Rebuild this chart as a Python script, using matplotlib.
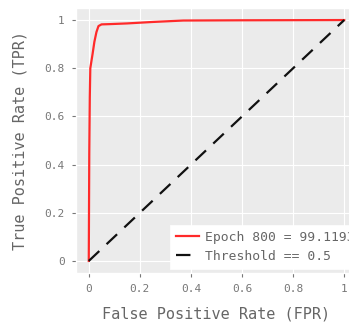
import numpy as np
import matplotlib
matplotlib.use('Agg')
import matplotlib.pyplot as plt

plt.style.use('ggplot')
plt.rcParams['font.family'] = 'DejaVu Sans Mono'

fpr = [0.0, 0.002, 0.004, 0.006, 0.009, 0.015, 0.022, 0.03, 0.038, 0.05, 0.08, 0.15, 0.25, 0.37, 0.6, 1.0]
tpr = [0.0, 0.45, 0.68, 0.80, 0.82, 0.86, 0.91, 0.95, 0.975, 0.982, 0.983, 0.986, 0.992, 0.998, 0.999, 1.0]
thr_x = [0, 1]
thr_y = [0, 1]

fig = plt.figure(figsize=(3.49, 3.29), dpi=100)
ax = fig.add_axes([76/349, 1 - 273/329, (357 - 76)/349, (273 - 8)/329])

ax.plot(fpr, tpr, color='#ff2a2a', lw=1.6, label='Epoch 800 = 99.1193%')
ax.plot(thr_x, thr_y, color='#111111', lw=1.6, ls=(0, (6.5, 4.5)), label='Threshold == 0.5')

ax.set_xlim(-0.05, 1.05)
ax.set_ylim(-0.05, 1.05)
ticks = [0, 0.2, 0.4, 0.6, 0.8, 1]
labels = ['0', '0.2', '0.4', '0.6', '0.8', '1']
ax.set_xticks(ticks)
ax.set_xticklabels(labels)
ax.set_yticks(ticks)
ax.set_yticklabels(labels)
ax.tick_params(labelsize=8, colors='#777777', length=3, pad=5)
ax.set_xlabel('False Positive Rate (FPR)', fontsize=11, color='#666666', labelpad=9)
ax.set_ylabel('True Positive Rate (TPR)', fontsize=11, color='#666666', labelpad=12)
ax.set_facecolor('#ebebeb')
ax.grid(color='white', lw=0.8)

# legend runs past the right edge, as in the original figure
leg = ax.legend(loc='upper left', bbox_to_anchor=(170/349, 1 - 225/329),
                bbox_transform=fig.transFigure, borderaxespad=0,
                fontsize=9.4, frameon=True, facecolor='white',
                edgecolor='white', framealpha=1, fancybox=False,
                handlelength=1.75, handletextpad=0.45, labelspacing=0.45,
                borderpad=0.45)
for t in leg.get_texts():
    t.set_color('#666666')

fig.savefig('out.png', dpi=100)
